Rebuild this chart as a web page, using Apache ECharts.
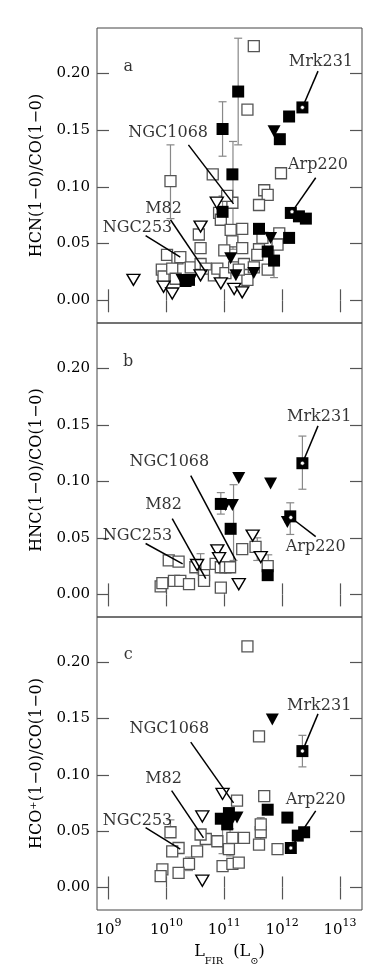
<!DOCTYPE html>
<html>
<head>
<meta charset="utf-8">
<script src="https://cdn.jsdelivr.net/npm/echarts@6/dist/echarts.min.js"></script>
<style>
html,body{margin:0;padding:0;background:#fff;}
#main{width:382px;height:978px;}
</style>
</head>
<body>
<div id="main"></div>
<script>
// x is log10(L_FIR / L_sun), y is the line ratio
var xTicks = [9, 10, 11, 12, 13];
var yTicks = [0, 0.05, 0.10, 0.15, 0.20];
var panelLetters = ['a', 'b', 'c'];
var yTitles = ['HCN(1\u22120)/CO(1\u22120)', 'HNC(1\u22120)/CO(1\u22120)', 'HCO\u207A(1\u22120)/CO(1\u22120)'];

// ---- panel a : HCN ----
var hcnOpenSq = [
  [11.51,0.224],[11.40,0.168],[10.07,0.105],[10.80,0.111],[11.98,0.112],[11.69,0.097],[11.75,0.093],
  [11.60,0.084],[11.14,0.086],[11.05,0.092],[10.91,0.077],[10.94,0.071],[11.11,0.062],[11.31,0.063],
  [10.56,0.058],[10.59,0.046],[10.01,0.040],[10.19,0.037],[11.14,0.052],[11.31,0.046],[11.00,0.044],
  [11.60,0.045],[11.95,0.059],[11.92,0.049],[9.92,0.027],[9.95,0.021],[10.10,0.028],[10.16,0.019],
  [10.24,0.038],[10.42,0.029],[10.59,0.032],[10.68,0.028],[10.82,0.022],[10.88,0.028],[11.02,0.024],
  [11.17,0.029],[11.34,0.032],[11.40,0.018],[11.57,0.040],[11.51,0.029],[11.75,0.027],[11.66,0.055],
  [11.25,0.027]
];
var hcnFillSq = [
  [11.24,0.184],[10.97,0.151],[11.14,0.111],[10.97,0.078],[12.12,0.162],[12.35,0.170],[11.96,0.142],
  [12.15,0.077],[12.29,0.074],[12.41,0.072],[12.12,0.055],[11.60,0.063],[11.75,0.043],[11.86,0.035],
  [10.33,0.017],[10.39,0.018]
];
var hcnOpenTri = [
  [9.43,0.018],[9.95,0.012],[10.10,0.006],[10.59,0.065],[10.59,0.022],[10.94,0.015],[11.17,0.010],
  [11.31,0.007],[10.87,0.086]
];
var hcnFillTri = [
  [11.86,0.149],[11.80,0.055],[11.11,0.037],[11.20,0.022],[11.51,0.024],[10.27,0.018],[10.42,0.018]
];
var hcnErr = [
  [10.07,0.072,0.137],[10.97,0.127,0.175],[11.24,0.137,0.231],[11.15,0.045,0.140],[10.97,0.068,0.092],
  [11.86,0.020,0.048]
];

// ---- panel b : HNC ----
var hncOpenSq = [
  [10.04,0.030],[10.21,0.029],[9.90,0.007],[9.93,0.010],[10.13,0.012],[10.24,0.012],[10.39,0.009],
  [10.50,0.024],[10.65,0.017],[10.65,0.012],[10.94,0.006],[10.85,0.027],[10.94,0.024],[11.02,0.024],
  [11.10,0.024],[11.31,0.040],[11.54,0.042],[11.75,0.025]
];
var hncFillSq = [
  [12.35,0.116],[10.94,0.080],[11.11,0.058],[12.14,0.069],[11.75,0.017]
];
var hncOpenTri = [
  [10.88,0.039],[11.49,0.052],[11.63,0.033],[11.25,0.009],[10.91,0.032],[10.53,0.026]
];
var hncFillTri = [
  [11.25,0.103],[11.80,0.098],[11.02,0.079],[11.14,0.079],[12.09,0.064]
];
var hncErr = [
  [12.35,0.093,0.140],[12.14,0.053,0.081],[11.16,0.030,0.097],[10.94,0.071,0.090],[10.59,0.018,0.036],
  [11.76,0.015,0.035],[11.57,0.030,0.050]
];

// ---- panel c : HCO+ ----
var hcoOpenSq = [
  [11.40,0.214],[11.60,0.134],[11.22,0.077],[11.69,0.081],[11.92,0.034],[11.60,0.038],[11.63,0.049],
  [11.63,0.056],[11.34,0.044],[11.14,0.044],[10.88,0.041],[10.68,0.043],[10.59,0.047],[10.07,0.049],
  [10.21,0.035],[10.10,0.032],[10.53,0.032],[10.39,0.021],[9.93,0.016],[9.90,0.010],[10.21,0.013],
  [10.97,0.019],[11.14,0.021],[11.25,0.022],[11.08,0.034]
];
var hcoFillSq = [
  [12.35,0.121],[11.75,0.069],[12.09,0.062],[12.27,0.046],[12.38,0.049],[12.15,0.035],
  [10.94,0.061],[11.08,0.066],[11.05,0.056]
];
var hcoOpenTri = [
  [10.97,0.083],[10.62,0.063],[10.62,0.006]
];
var hcoFillTri = [
  [11.83,0.149],[11.22,0.062],[11.14,0.061]
];
var hcoErr = [
  [12.35,0.107,0.135],[10.97,0.030,0.062],[11.10,0.028,0.052],[11.63,0.040,0.062],[10.39,0.015,0.027],
  [10.07,0.045,0.060]
];

// named sources: label position and pointer [x1, y1, x2, y2] per panel
var srcNames = ['Mrk231', 'NGC1068', 'Arp220', 'M82', 'NGC253'];
var srcRing = [true, false, true, false, false];
var srcLabelPos = [
  [[12.67,0.210],[10.03,0.148],[12.62,0.119],[9.95,0.081],[9.50,0.064]],
  [[12.64,0.157],[10.05,0.117],[12.58,0.042],[9.95,0.079],[9.50,0.052]],
  [[12.64,0.161],[10.05,0.141],[12.58,0.078],[9.95,0.096],[9.50,0.059]]
];
var srcPointers = [
  [[12.62,0.202,12.35,0.170],[10.38,0.137,11.16,0.085],[12.58,0.108,12.17,0.078],[10.07,0.071,10.68,0.025],[9.64,0.057,10.24,0.038]],
  [[12.62,0.149,12.35,0.116],[10.42,0.105,11.20,0.030],[12.58,0.051,12.15,0.068],[10.10,0.067,10.68,0.014],[9.64,0.045,10.28,0.027]],
  [[12.62,0.154,12.35,0.121],[10.42,0.129,11.16,0.075],[12.58,0.068,12.15,0.035],[10.09,0.086,10.64,0.044],[9.64,0.053,10.24,0.034]]
];
var letterPos = [9.34, 0.206];

var panels = [
  {openSq: hcnOpenSq, fillSq: hcnFillSq, openTri: hcnOpenTri, fillTri: hcnFillTri, err: hcnErr},
  {openSq: hncOpenSq, fillSq: hncFillSq, openTri: hncOpenTri, fillTri: hncFillTri, err: hncErr},
  {openSq: hcoOpenSq, fillSq: hcoFillSq, openTri: hcoOpenTri, fillTri: hcoFillTri, err: hcoErr}
];

var FONT = 'DejaVu Serif';
var tops = [28, 323, 617];
var heights = [295, 294, 293];

var grids = [], xAxes = [], yAxes = [], series = [];

for (var i = 0; i < 3; i++) {
  grids.push({left: 97, right: 20, top: tops[i], height: heights[i], show: true,
    borderColor: '#444', borderWidth: 1, backgroundColor: 'transparent'});

  var isLast = (i === 2);
  xAxes.push({
    gridIndex: i, type: 'value', min: 8.8, max: 13.38, position: 'bottom',
    axisLine: {show: false}, splitLine: {show: false},
    axisTick: {show: true, inside: true, length: 11, customValues: xTicks, lineStyle: {color: '#555', width: 1.2}},
    axisLabel: {show: isLast, customValues: xTicks, margin: 8, color: '#000',
      formatter: function (v) { return '{b|10}{s|' + Math.round(v) + '}'; },
      rich: {
        b: {fontFamily: FONT, fontSize: 15, color: '#000', lineHeight: 20, verticalAlign: 'bottom'},
        s: {fontFamily: FONT, fontSize: 11, color: '#000', lineHeight: 20, verticalAlign: 'top', padding: [0, 0, 6, 0]}
      }
    },
    name: isLast ? '{m|L}{sub|FIR}{m|  (L}{sub|\u2299}{m|)}' : '',
    nameLocation: 'middle', nameGap: 34,
    nameTextStyle: {rich: {
      m: {fontFamily: FONT, fontSize: 16, color: '#000', lineHeight: 22, verticalAlign: 'top'},
      sub: {fontFamily: FONT, fontSize: 10, color: '#000', lineHeight: 22, verticalAlign: 'bottom', padding: [8, 0, 0, 0]}
    }}
  });
  xAxes.push({
    gridIndex: i, type: 'value', min: 8.8, max: 13.38, position: 'top',
    axisLine: {show: false}, splitLine: {show: false},
    axisTick: {show: true, inside: true, length: 12, customValues: xTicks, lineStyle: {color: '#555', width: 1.2}},
    axisLabel: {show: false}
  });

  yAxes.push({
    gridIndex: i, type: 'value', min: -0.02, max: 0.24, position: 'left',
    axisLine: {show: false}, splitLine: {show: false},
    axisTick: {show: true, inside: true, length: 12, customValues: yTicks, lineStyle: {color: '#555', width: 1.2}},
    axisLabel: {customValues: yTicks, margin: 7, fontFamily: FONT, fontSize: 15, color: '#000',
      formatter: function (v) { return v.toFixed(2); }},
    name: yTitles[i], nameLocation: 'middle', nameGap: 52, nameRotate: 90,
    nameTextStyle: {fontFamily: FONT, fontSize: 16, color: '#000'}
  });
  yAxes.push({
    gridIndex: i, type: 'value', min: -0.02, max: 0.24, position: 'right',
    axisLine: {show: false}, splitLine: {show: false},
    axisTick: {show: true, inside: true, length: 12, customValues: yTicks, lineStyle: {color: '#555', width: 1.2}},
    axisLabel: {show: false}
  });

  var xi = 2 * i, yi = 2 * i;
  var p = panels[i];

  series.push({
    type: 'custom', xAxisIndex: xi, yAxisIndex: yi, z: 1, silent: true,
    renderItem: function (params, api) {
      var x = api.value(0);
      var lo = api.coord([x, api.value(1)]);
      var hi = api.coord([x, api.value(2)]);
      var st = {stroke: '#888', lineWidth: 1.2};
      return {type: 'group', children: [
        {type: 'line', shape: {x1: lo[0], y1: lo[1], x2: hi[0], y2: hi[1]}, style: st},
        {type: 'line', shape: {x1: lo[0] - 4, y1: lo[1], x2: lo[0] + 4, y2: lo[1]}, style: st},
        {type: 'line', shape: {x1: hi[0] - 4, y1: hi[1], x2: hi[0] + 4, y2: hi[1]}, style: st}
      ]};
    },
    data: p.err
  });
  series.push({type: 'scatter', xAxisIndex: xi, yAxisIndex: yi, z: 2, symbol: 'rect', symbolSize: 11,
    itemStyle: {color: '#fff', borderColor: '#555', borderWidth: 1.3, opacity: 1}, data: p.openSq});
  series.push({type: 'scatter', xAxisIndex: xi, yAxisIndex: yi, z: 3, symbol: 'rect', symbolSize: 12,
    itemStyle: {color: '#000', opacity: 1}, data: p.fillSq});
  series.push({type: 'scatter', xAxisIndex: xi, yAxisIndex: yi, z: 3, symbol: 'triangle', symbolRotate: 180,
    symbolSize: [13, 11], itemStyle: {color: '#fff', borderColor: '#000', borderWidth: 1.4, opacity: 1}, data: p.openTri});
  series.push({type: 'scatter', xAxisIndex: xi, yAxisIndex: yi, z: 4, symbol: 'triangle', symbolRotate: 180,
    symbolSize: [13, 12], itemStyle: {color: '#000', opacity: 1}, data: p.fillTri});

  // pointer lines (Mrk231 and Arp220 end in a small ring)
  series.push({
    type: 'custom', xAxisIndex: xi, yAxisIndex: yi, z: 5, silent: true,
    renderItem: function (params, api) {
      var a = api.coord([api.value(0), api.value(1)]);
      var b = api.coord([api.value(2), api.value(3)]);
      var kids = [{type: 'line', shape: {x1: a[0], y1: a[1], x2: b[0], y2: b[1]}, style: {stroke: '#000', lineWidth: 1.5}}];
      if (srcRing[params.dataIndex]) {
        kids.push({type: 'circle', shape: {cx: b[0], cy: b[1], r: 2}, style: {fill: '#fff', stroke: '#000', lineWidth: 0.6}});
      }
      return {type: 'group', children: kids};
    },
    data: srcPointers[i]
  });

  // source names and panel letter
  var lab = srcLabelPos[i].map(function (pos, k) { return {value: pos, name: srcNames[k]}; });
  lab.push({value: letterPos, name: panelLetters[i]});
  series.push({
    type: 'scatter', xAxisIndex: xi, yAxisIndex: yi, z: 6, silent: true, symbolSize: 1,
    itemStyle: {color: 'rgba(0,0,0,0)'},
    label: {show: true, position: 'inside', formatter: '{b}', fontFamily: FONT, fontSize: 16, color: '#000'},
    data: lab
  });
}

var chart = echarts.init(document.getElementById('main'), null, {renderer: 'canvas'});
chart.setOption({
  animation: false,
  backgroundColor: '#fff',
  grid: grids,
  xAxis: xAxes,
  yAxis: yAxes,
  series: series
});
</script>
</body>
</html>
